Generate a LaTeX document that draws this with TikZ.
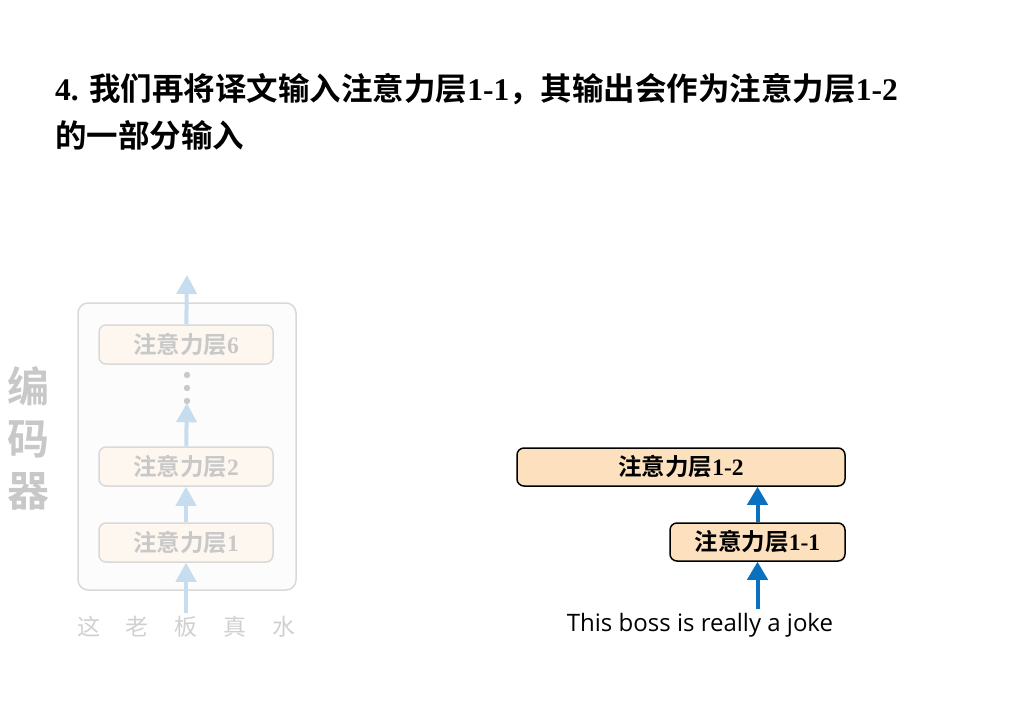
\documentclass[tikz,border=0pt]{standalone}
\usepackage{fontspec}
\setmainfont{Liberation Serif}
\newfontfamily\cjk{Noto Sans CJK SC}[BoldFont={Noto Sans CJK SC Bold}]
\newfontfamily\engfont{Open Sans}
\newcommand{\cn}[1]{{\cjk #1}}
\usetikzlibrary{arrows.meta, positioning}
\definecolor{layerfill}{HTML}{FDE1BF}
\definecolor{fadefill}{HTML}{FDF7F0}
\definecolor{fadebg}{HTML}{FCFCFC}
\definecolor{fadeline}{HTML}{D9D9D9}
\definecolor{fadetext}{HTML}{C8C8C8}
\definecolor{wordgray}{HTML}{D0D0D0}
\definecolor{arrowblue}{HTML}{0A70C0}
\definecolor{fadeblue}{HTML}{C6DDF0}
\tikzstyle{layer} = [rectangle, rounded corners=7pt, minimum height=38pt, text centered, draw=black, line width=1.5pt, fill=layerfill, font=\bfseries\fontsize{23.5}{23.5}\selectfont]
\tikzstyle{fadelayer} = [rectangle, rounded corners=7pt, minimum width=174pt, minimum height=39pt, text centered, draw=fadeline, line width=1.5pt, fill=fadefill, text=fadetext, font=\bfseries\fontsize{23.5}{23.5}\selectfont]
\tikzstyle{word} = [text=wordgray, font=\fontsize{23}{23}\selectfont]
\tikzstyle{arrow} = [line width=4pt, -{Triangle[width=20pt,length=18pt]}, arrowblue]
\tikzstyle{fadearrow} = [line width=4pt, -{Triangle[width=20pt,length=19pt]}, fadeblue]

\begin{document}
\begin{tikzpicture}[x=1pt, y=-1pt]
    \useasboundingbox (0,0) rectangle (1024,720);
    \node (title) [anchor=base west, align=left, inner sep=0pt, font=\bfseries\fontsize{31.5}{47}\selectfont] at (55,147)
        {4. \cn{我们再将译文输入注意力层}1-1\cn{，其输出会作为注意力层}1-2\\\cn{的一部分输入}};

    % encoder (faded)
    \node (enc) [rectangle, rounded corners=10pt, minimum width=218pt, minimum height=287pt, draw=fadeline, line width=1.5pt, fill=fadebg] at (187,446.5) {};
    \node (enclabel) [align=center, text=fadetext, font=\bfseries\fontsize{42}{52}\selectfont] at (28,438) {\cn{编}\\\cn{码}\\\cn{器}};
    \node (e1) [fadelayer] at (186,542.5) {\cn{注意力层}1};
    \node (e2) [fadelayer] at (186,466.5) {\cn{注意力层}2};
    \node (e6) [fadelayer] at (186,344.5) {\cn{注意力层}6};
    \node (dots) [minimum width=10pt, minimum height=30pt] at (187,388) {};
    \foreach \y in {375,388,401}
        \fill[fadetext] (187,\y) circle (3.2pt);
    \coordinate (out) at (187,275);
    \foreach \w/\x [count=\i] in {这/89, 老/137, 板/186, 真/235, 水/284}
        \node (w\i) [word] at (\x,627) {\cn{\w}};

    \draw [fadearrow] (w3) -- (e1);
    \draw [fadearrow] (e1) -- (e2);
    \draw [fadearrow] (e2) -- (dots);
    \draw [fadearrow] (e6) -- (out);

    % decoder side
    \node (a12) [layer, minimum width=328pt] at (681,467) {\cn{注意力层}1-2};
    \node (a11) [layer, minimum width=175pt] at (757.5,542) {\cn{注意力层}1-1};
    \node (src) [font=\engfont\fontsize{24}{24}\selectfont] at (700,625) {This boss is really a joke};

    \draw [arrow] (src.north -| a11) -- (a11);
    \draw [arrow] (a11) -- (a11 |- a12.south);
\end{tikzpicture}
\end{document}
